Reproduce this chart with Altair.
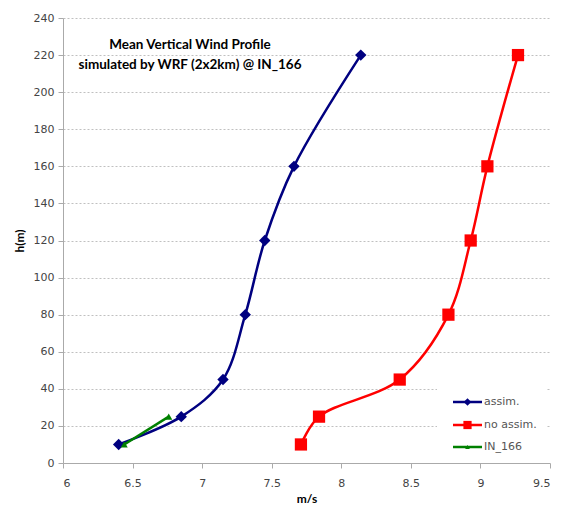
import altair as alt
import pandas as pd

heights = [10, 25, 45, 80, 120, 160, 220]
assim = [6.40, 6.85, 7.15, 7.31, 7.45, 7.66, 8.14]
no_assim = [7.71, 7.84, 8.42, 8.77, 8.93, 9.05, 9.27]
obs_heights = [10, 25]
in_166 = [6.44, 6.76]

series_names = ["assim.", "no assim.", "IN_166"]
series_colors = ["#000080", "#FF0000", "#008000"]
series_shapes = ["diamond", "square", "triangle-up"]
series_sizes = [130, 150, 50]
title_lines = ["Mean Vertical Wind Profile", "simulated by WRF (2x2km) @ IN_166"]
x_ticks = [6, 6.5, 7, 7.5, 8, 8.5, 9, 9.5]
y_ticks = list(range(0, 241, 20))

rows = []
for h, v in zip(heights, assim):
    rows.append({"series": "assim.", "h": h, "v": v})
for h, v in zip(heights, no_assim):
    rows.append({"series": "no assim.", "h": h, "v": v})
for h, v in zip(obs_heights, in_166):
    rows.append({"series": "IN_166", "h": h, "v": v})
df = pd.DataFrame(rows)

W, H = 487, 445
FONT = "DejaVu Sans"

x = alt.X("v:Q", title="m/s",
          scale=alt.Scale(domain=[6, 9.5], nice=False, zero=False),
          axis=alt.Axis(values=x_ticks, grid=False, format="~g",
                        labelPadding=9,
                        titleFontWeight="bold", titleFont="Lato", titleFontSize=12,
                        titlePadding=5))
y = alt.Y("h:Q", title="h(m)",
          scale=alt.Scale(domain=[0, 240], nice=False),
          axis=alt.Axis(values=y_ticks, grid=True,
                        gridDash=[2, 2], gridColor="#c0c0c0",
                        labelPadding=4,
                        titleFontWeight="bold", titleFont="Lato", titleFontSize=12,
                        titlePadding=7))

layers = []
for name, col, shp, sz in zip(series_names, series_colors, series_shapes, series_sizes):
    sub = df[df.series == name]
    base = alt.Chart(sub)
    line = base.mark_line(color=col, strokeWidth=2.5, interpolate="catmull-rom").encode(
        x=x, y=y, order="h:Q")
    pts = base.mark_point(color=col, filled=True, opacity=1, shape=shp, size=sz).encode(x=x, y=y)
    layers += [line, pts]

# title annotation (pixel placement inside plot area)
ann = []
for txt, yy in zip(title_lines, [27, 47]):
    ann.append(alt.Chart(pd.DataFrame({"t": [txt]})).mark_text(
        font="Lato", fontWeight="bold", fontSize=13.5, color="#000000",
        align="center", baseline="middle").encode(
        text="t:N", x=alt.value(127), y=alt.value(yy)))

# legend box (white background hiding gridlines)
ann.append(alt.Chart(pd.DataFrame({"k": [0]})).mark_rect(color="white").encode(
    x=alt.value(374), x2=alt.value(484), y=alt.value(366), y2=alt.value(442)))

# legend entries
for name, col, shp, sz, yy in zip(series_names, series_colors, series_shapes, series_sizes,
                                  [384, 407, 429]):
    b = alt.Chart(pd.DataFrame({"series": [name]}))
    ann.append(b.mark_rule(color=col, strokeWidth=2.5).encode(
        x=alt.value(390), x2=alt.value(419), y=alt.value(yy)))
    ann.append(b.mark_point(color=col, filled=True, opacity=1, shape=shp,
                            size=sz * 0.45).encode(x=alt.value(404.5), y=alt.value(yy)))
    ann.append(b.mark_text(font=FONT, fontSize=11, color="#555555", align="left",
                           baseline="middle").encode(
        x=alt.value(421), y=alt.value(yy), text="series:N"))

chart = alt.layer(*layers, *ann).properties(
    width=W, height=H,
    autosize=alt.AutoSizeParams(type="none"),
    padding={"left": 55, "top": 10, "right": 8, "bottom": 42},
).configure_view(stroke=None).configure_axis(
    domainColor="#aaaaaa", tickColor="#aaaaaa", tickSize=5,
    labelFont=FONT, labelFontSize=11, labelColor="#444444",
    titleColor="#000000",
)

chart.save("out.html", embed_options={"renderer": "svg", "actions": False})
